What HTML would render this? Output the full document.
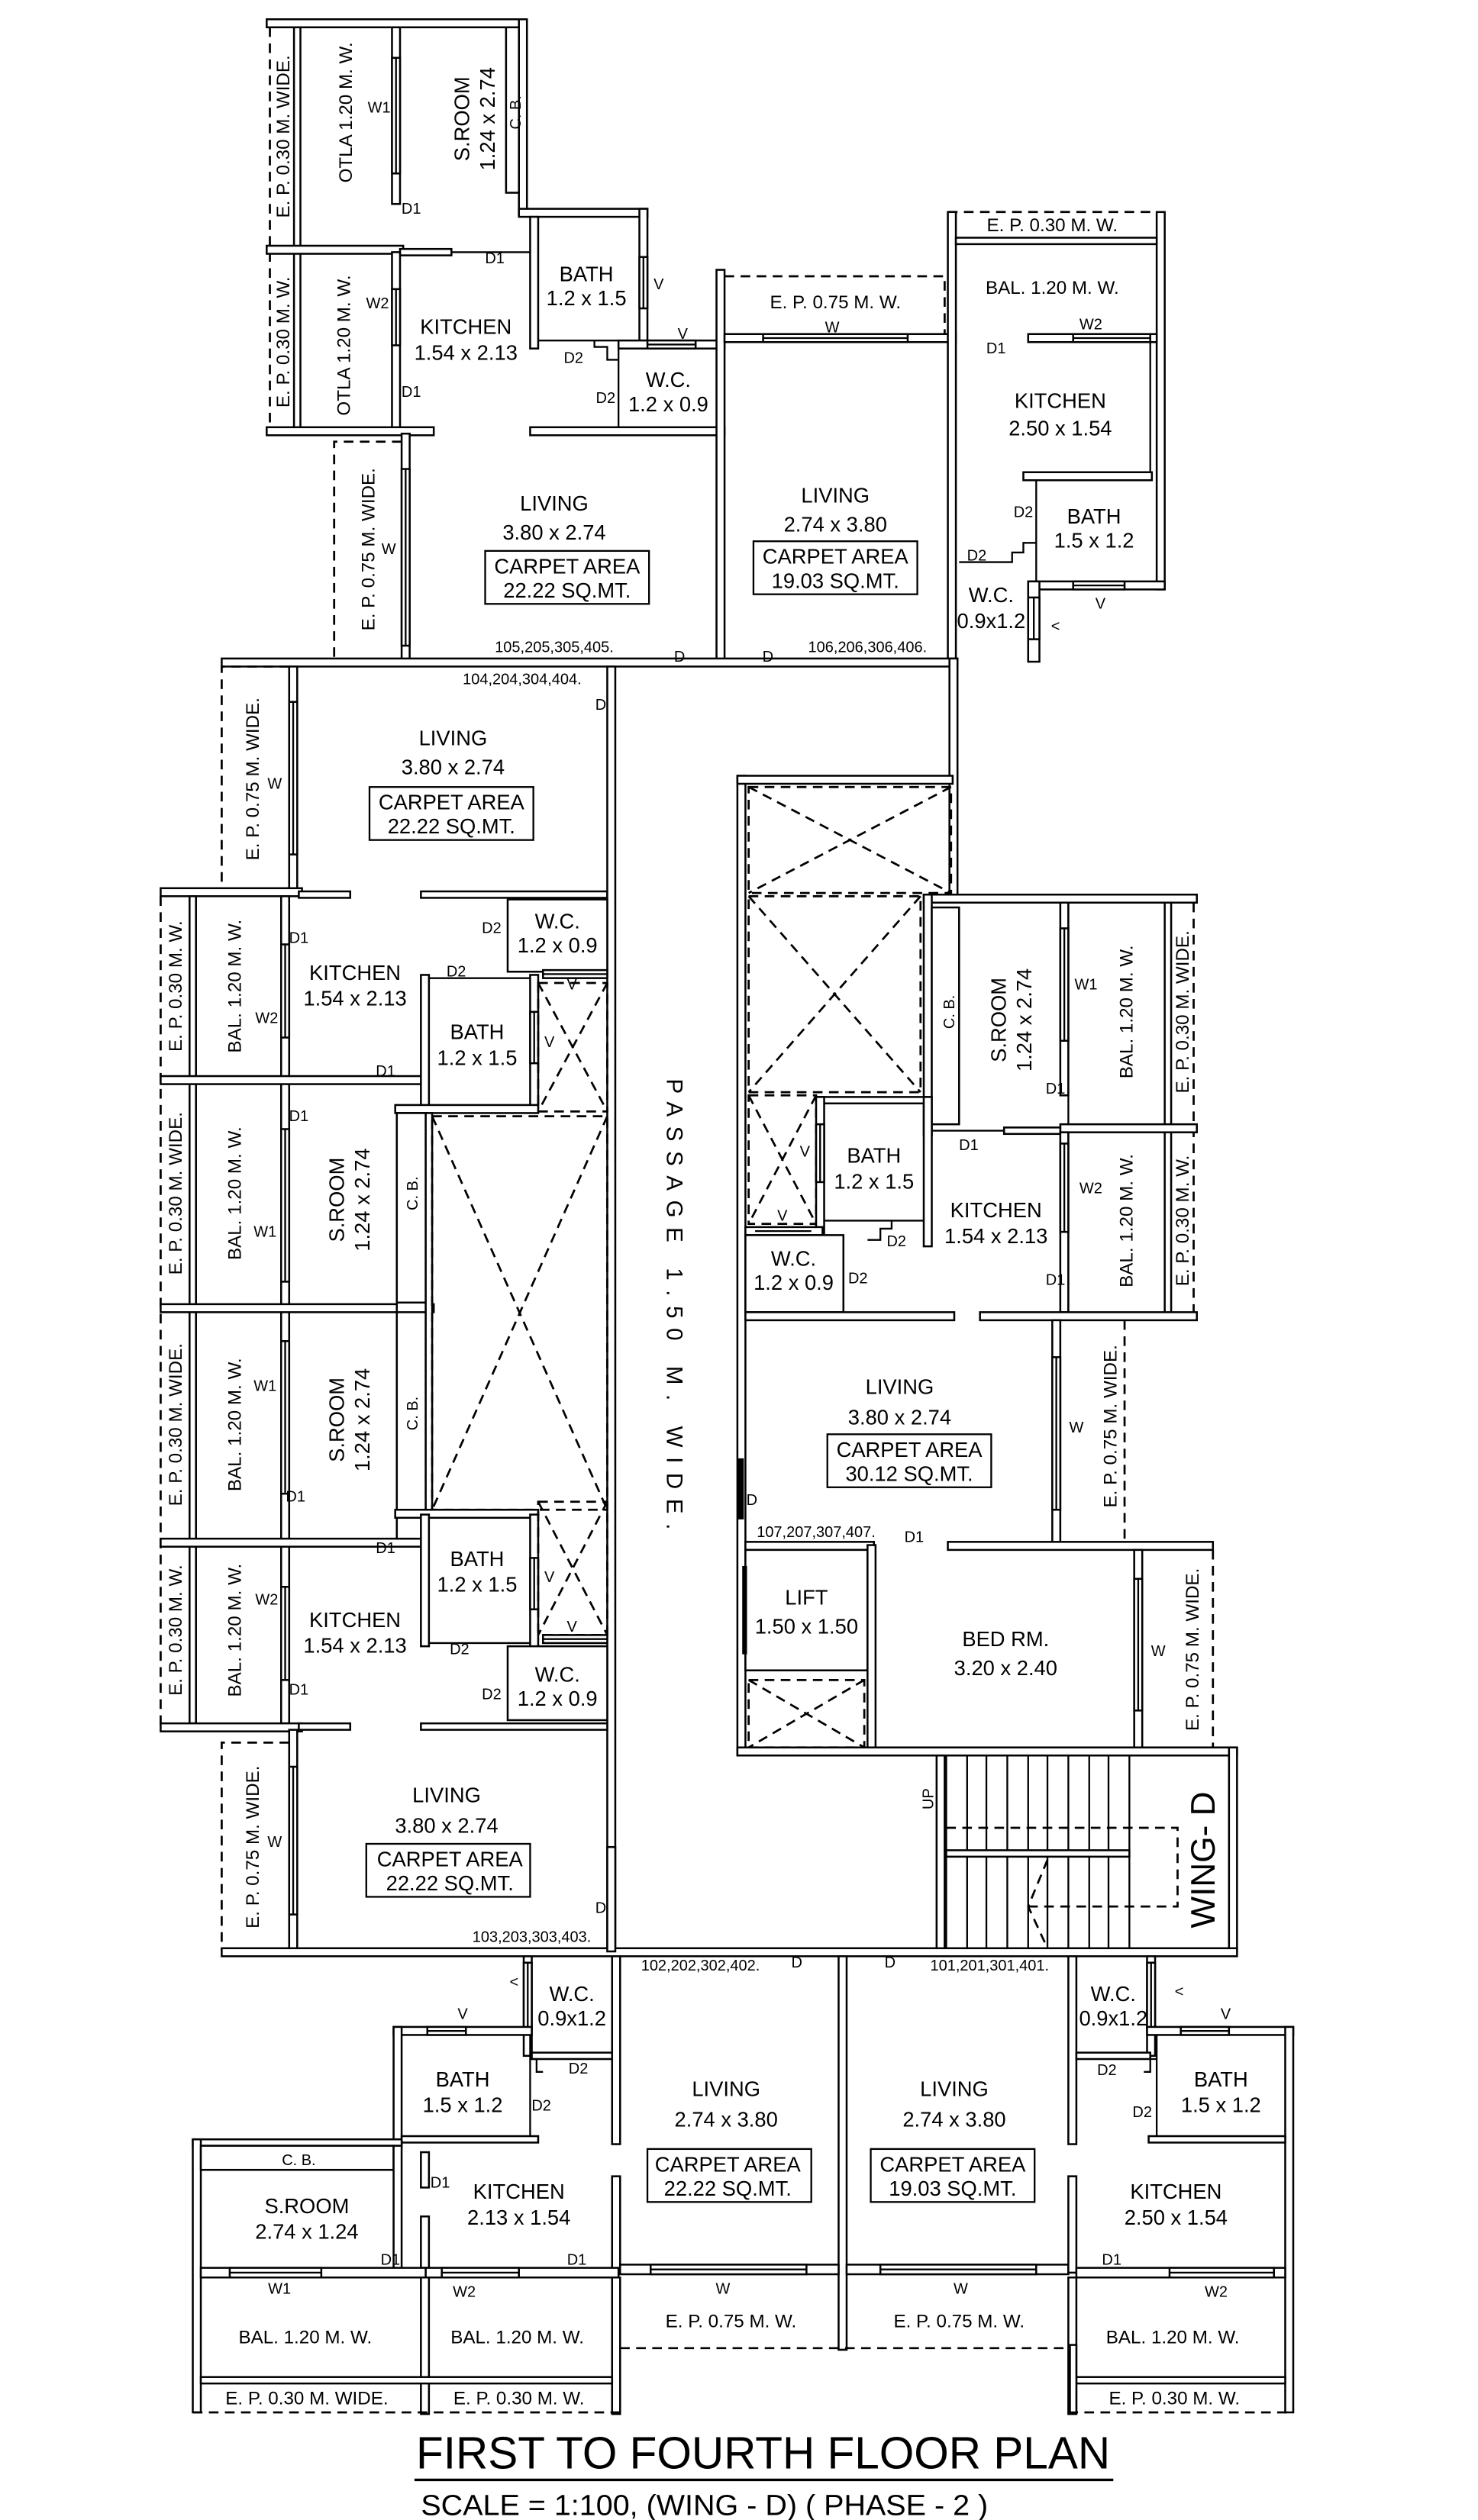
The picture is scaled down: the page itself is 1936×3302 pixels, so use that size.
<!DOCTYPE html>
<html><head><meta charset="utf-8"><style>
html,body{margin:0;padding:0;background:#fff}
svg{display:block}
.w{fill:#fff;stroke:#000;stroke-width:1.2}
.k{fill:#000}
.l{fill:none;stroke:#000;stroke-width:1.1}
.d{fill:none;stroke:#000;stroke-width:1.3;stroke-dasharray:6 4}
text{font-family:"Liberation Sans",Arial,sans-serif;font-size:13px;fill:#000;text-anchor:middle}
.s{font-size:9.5px}
.m{font-size:11.5px}
</style></head><body>
<svg width="1936" height="3302" viewBox="0 0 920 1569" preserveAspectRatio="none" xmlns="http://www.w3.org/2000/svg">

<!-- ================= TOP LEFT UNIT ================= -->
<rect class="w" x="166" y="12" width="161" height="5"/>
<rect class="w" x="323" y="12" width="5" height="122"/>
<rect class="w" x="323" y="130" width="80" height="5"/>
<rect class="w" x="398" y="130" width="5" height="82"/>
<rect class="w" x="398" y="160" width="5" height="32"/><line class="l" x1="400.5" y1="160" x2="400.5" y2="192"/>
<rect class="w" x="315" y="17" width="8" height="103"/>
<line class="d" x1="168" y1="17" x2="168" y2="270"/>
<rect class="w" x="183" y="17" width="4" height="250"/>
<rect class="w" x="244" y="17" width="5" height="110"/>
<rect class="w" x="244" y="36" width="5" height="72"/><line class="l" x1="246.5" y1="36" x2="246.5" y2="108"/>
<rect class="w" x="166" y="153" width="85" height="5"/>
<rect class="w" x="249" y="155" width="32" height="4"/>
<line class="l" x1="281" y1="157" x2="330" y2="157"/>
<rect class="w" x="330" y="135" width="5" height="82"/>
<line class="l" x1="335" y1="212" x2="398" y2="212"/>
<polyline class="l" points="370,212 370,216 378,216 378,224 385,224"/>
<rect class="w" x="385" y="212" width="66" height="5"/>
<rect class="w" x="403" y="212" width="30" height="5"/><line class="l" x1="403" y1="214.5" x2="433" y2="214.5"/>
<line class="l" x1="385" y1="217" x2="385" y2="266"/>
<rect class="w" x="244" y="157" width="5" height="110"/>
<rect class="w" x="244" y="180" width="5" height="35"/><line class="l" x1="246.5" y1="180" x2="246.5" y2="215"/>
<rect class="w" x="166" y="266" width="104" height="5"/>
<rect class="w" x="330" y="266" width="121" height="5"/>
<rect class="w" x="250" y="270" width="5" height="142"/>
<rect class="w" x="250" y="292" width="5" height="110"/><line class="l" x1="252.5" y1="292" x2="252.5" y2="402"/>
<polyline class="d" points="250,275 208,275 208,410"/>
<rect class="w" x="446" y="168" width="5" height="244"/>
<polyline class="d" points="451,172 588,172 588,208"/>
<rect class="w" x="451" y="208" width="144" height="5"/>
<rect class="w" x="475" y="208" width="90" height="5"/><line class="l" x1="475" y1="210.5" x2="565" y2="210.5"/>

<!-- top right unit -->
<polyline class="d" points="590,132 720,132"/>
<rect class="w" x="720" y="132" width="5" height="235"/>
<rect class="w" x="590" y="132" width="5" height="280"/>
<rect class="w" x="595" y="148" width="125" height="4"/>
<rect class="w" x="640" y="208" width="80" height="5"/>
<rect class="w" x="668" y="208" width="48" height="5"/><line class="l" x1="668" y1="210.5" x2="716" y2="210.5"/>
<line class="l" x1="716" y1="213" x2="716" y2="296"/>
<rect class="w" x="637" y="294" width="80" height="5"/>
<line class="l" x1="645" y1="299" x2="645" y2="362"/>
<rect class="w" x="640" y="362" width="85" height="5"/>
<rect class="w" x="668" y="362" width="32" height="5"/><line class="l" x1="668" y1="364.5" x2="700" y2="364.5"/>
<polyline class="l" points="597,350 630,350 630,344 637,344 637,338 645,338"/>
<rect class="w" x="640" y="362" width="7" height="50"/>
<rect class="w" x="640" y="372" width="7" height="26"/><line class="l" x1="643.5" y1="372" x2="643.5" y2="398"/>

<rect class="w" x="138" y="410" width="458" height="5"/>
<rect class="w" x="591" y="410" width="5" height="150"/>

<!-- ================= MIDDLE LEFT ================= -->
<rect class="w" x="180" y="415" width="5" height="140"/>
<rect class="w" x="180" y="437" width="5" height="95"/><line class="l" x1="182.5" y1="437" x2="182.5" y2="532"/>
<polyline class="d" points="180,415 138,415 138,553"/>
<rect class="w" x="100" y="553" width="88" height="5"/>
<rect class="w" x="186" y="555" width="32" height="4"/>
<rect class="w" x="262" y="555" width="116" height="4"/>
<rect class="w" x="378" y="415" width="5" height="800"/>

<line class="d" x1="100" y1="558" x2="100" y2="1076"/>
<rect class="w" x="118" y="558" width="4" height="515"/>
<rect class="w" x="175" y="558" width="5" height="515"/>
<rect class="w" x="175" y="588" width="5" height="58"/><line class="l" x1="177.5" y1="588" x2="177.5" y2="646"/>
<rect class="w" x="175" y="703" width="5" height="95"/><line class="l" x1="177.5" y1="703" x2="177.5" y2="798"/>
<rect class="w" x="175" y="835" width="5" height="95"/><line class="l" x1="177.5" y1="835" x2="177.5" y2="930"/>
<rect class="w" x="175" y="988" width="5" height="58"/><line class="l" x1="177.5" y1="988" x2="177.5" y2="1046"/>
<rect class="w" x="100" y="670" width="165" height="5"/>
<rect class="w" x="100" y="812" width="170" height="5"/>
<rect class="w" x="100" y="958" width="165" height="5"/>
<rect class="w" x="100" y="1073" width="88" height="5"/>
<rect class="w" x="186" y="1073" width="32" height="4"/>
<rect class="w" x="262" y="1073" width="116" height="4"/>
<!-- baths -->
<rect class="w" x="262" y="607" width="5" height="83"/>
<line class="l" x1="267" y1="609" x2="330" y2="609"/>
<rect class="w" x="330" y="607" width="5" height="83"/>
<rect class="w" x="330" y="630" width="5" height="32"/><line class="l" x1="332.5" y1="630" x2="332.5" y2="662"/>
<rect class="w" x="246" y="688" width="89" height="5"/>
<rect class="w" x="316" y="560" width="62" height="45"/>
<rect class="w" x="338" y="604" width="40" height="5"/><line class="l" x1="338" y1="606.5" x2="378" y2="606.5"/>
<rect class="d" x="335" y="612" width="43" height="80"/>
<path class="d" d="M335,612 L378,692 M378,612 L335,692"/>
<rect class="w" x="247" y="693" width="18" height="265"/>
<rect class="w" x="247" y="693" width="18" height="118"/>
<rect class="w" x="247" y="817" width="18" height="125"/>
<rect class="w" x="265" y="693" width="4" height="250"/>
<rect class="d" x="269" y="695" width="109" height="245"/>
<path class="d" d="M269,695 L378,940 M378,695 L269,940"/>
<rect class="w" x="246" y="940" width="89" height="5"/>
<rect class="w" x="262" y="943" width="5" height="82"/>
<line class="l" x1="267" y1="1023" x2="330" y2="1023"/>
<rect class="w" x="330" y="943" width="5" height="83"/>
<rect class="w" x="330" y="970" width="5" height="32"/><line class="l" x1="332.5" y1="970" x2="332.5" y2="1002"/>
<rect class="d" x="335" y="935" width="43" height="83"/>
<path class="d" d="M335,935 L378,1018 M378,935 L335,1018"/>
<rect class="w" x="338" y="1018" width="40" height="5"/><line class="l" x1="338" y1="1020.5" x2="378" y2="1020.5"/>
<rect class="w" x="316" y="1025" width="62" height="46"/>
<rect class="w" x="180" y="1077" width="5" height="140"/>
<rect class="w" x="180" y="1100" width="5" height="92"/><line class="l" x1="182.5" y1="1100" x2="182.5" y2="1192"/>
<polyline class="d" points="180,1085 138,1085 138,1215"/>

<!-- ================= MIDDLE RIGHT ================= -->
<rect class="w" x="459" y="483" width="5" height="610"/>
<rect class="w" x="459" y="483" width="134" height="5"/>
<rect class="d" x="466" y="490" width="126" height="66"/>
<path class="d" d="M466,490 L592,556 M592,490 L466,556"/>
<rect class="d" x="466" y="558" width="107" height="122"/>
<path class="d" d="M466,558 L573,680 M573,558 L466,680"/>
<rect class="d" x="466" y="682" width="42" height="80"/>
<path class="d" d="M466,682 L508,762 M508,682 L466,762"/>
<rect class="w" x="575" y="557" width="170" height="5"/>
<rect class="w" x="575" y="557" width="5" height="150"/>
<rect class="w" x="580" y="565" width="17" height="135"/>
<rect class="w" x="660" y="562" width="5" height="120"/>
<rect class="w" x="660" y="578" width="5" height="70"/><line class="l" x1="662.5" y1="578" x2="662.5" y2="648"/>
<line class="l" x1="665" y1="562" x2="665" y2="702"/>
<rect class="w" x="725" y="562" width="4" height="258"/>
<line class="d" x1="743" y1="562" x2="743" y2="822"/>
<rect class="w" x="660" y="700" width="85" height="5"/>
<rect class="w" x="625" y="702" width="35" height="4"/>
<line class="l" x1="580" y1="704" x2="625" y2="704"/>
<rect class="w" x="660" y="705" width="5" height="112"/>
<rect class="w" x="660" y="712" width="5" height="55"/><line class="l" x1="662.5" y1="712" x2="662.5" y2="767"/>
<line class="l" x1="665" y1="705" x2="665" y2="817"/>
<rect class="w" x="508" y="683" width="70" height="4"/>
<rect class="w" x="508" y="683" width="5" height="85"/>
<rect class="w" x="508" y="700" width="5" height="36"/><line class="l" x1="510.5" y1="700" x2="510.5" y2="736"/>
<rect class="w" x="575" y="683" width="5" height="93"/>
<line class="l" x1="513" y1="760" x2="575" y2="760"/>
<polyline class="l" points="555,760 555,765 548,765 548,772 540,772"/>
<rect class="w" x="464" y="764" width="48" height="5"/><line class="l" x1="470" y1="766.5" x2="505" y2="766.5"/>
<rect class="w" x="464" y="769" width="61" height="48"/>
<rect class="w" x="464" y="817" width="130" height="5"/>
<rect class="w" x="610" y="817" width="135" height="5"/>
<rect class="w" x="655" y="822" width="5" height="140"/>
<rect class="w" x="655" y="845" width="5" height="95"/><line class="l" x1="657.5" y1="845" x2="657.5" y2="940"/>
<line class="d" x1="700" y1="822" x2="700" y2="962"/>
<rect class="k" x="459" y="908" width="4" height="38"/>
<rect class="w" x="464" y="960" width="80" height="5"/>
<rect class="w" x="590" y="960" width="165" height="5"/>
<rect class="w" x="464" y="965" width="76" height="75"/>
<rect class="k" x="462" y="975" width="3" height="55"/>
<rect class="w" x="540" y="962" width="5" height="128"/>
<rect class="d" x="466" y="1046" width="72" height="42"/>
<path class="d" d="M466,1046 L538,1088 M538,1046 L466,1088"/>
<rect class="w" x="706" y="965" width="5" height="125"/>
<rect class="w" x="706" y="983" width="5" height="82"/><line class="l" x1="708.5" y1="983" x2="708.5" y2="1065"/>
<line class="d" x1="755" y1="965" x2="755" y2="1088"/>
<rect class="w" x="459" y="1088" width="311" height="5"/>
<!-- stair -->
<rect class="w" x="583" y="1093" width="5" height="122"/>
<rect class="w" x="765" y="1088" width="5" height="127"/>
<g class="l">
<line x1="589" y1="1093" x2="589" y2="1213"/><line x1="602" y1="1093" x2="602" y2="1213"/><line x1="614" y1="1093" x2="614" y2="1213"/><line x1="627" y1="1093" x2="627" y2="1213"/><line x1="640" y1="1093" x2="640" y2="1213"/><line x1="652" y1="1093" x2="652" y2="1213"/><line x1="665" y1="1093" x2="665" y2="1213"/><line x1="678" y1="1093" x2="678" y2="1213"/><line x1="690" y1="1093" x2="690" y2="1213"/><line x1="703" y1="1093" x2="703" y2="1213"/>
</g>
<rect class="w" x="589" y="1152" width="114" height="4"/>
<polyline class="d" points="589,1138 733,1138 733,1187 640,1187"/>
<polyline class="d" points="652,1158 640,1187 652,1213"/>

<rect class="w" x="138" y="1213" width="632" height="5"/>
<rect class="w" x="378" y="1150" width="5" height="65"/>

<!-- ================= BOTTOM ================= -->
<rect class="w" x="326" y="1218" width="5" height="62"/>
<rect class="w" x="326" y="1222" width="5" height="42"/><line class="l" x1="328.5" y1="1222" x2="328.5" y2="1264"/>
<rect class="w" x="381" y="1218" width="5" height="117"/>
<rect class="w" x="331" y="1278" width="50" height="4"/>
<rect class="w" x="245" y="1262" width="86" height="5"/>
<rect class="w" x="266" y="1262" width="24" height="5"/><line class="l" x1="266" y1="1264.5" x2="290" y2="1264.5"/>
<rect class="w" x="245" y="1262" width="5" height="75"/>
<line class="l" x1="330" y1="1267" x2="330" y2="1330"/>
<polyline class="l" points="330,1282 334,1282 334,1290 338,1290"/>
<rect class="w" x="250" y="1330" width="85" height="4"/>
<rect class="w" x="120" y="1332" width="130" height="4"/>
<rect class="w" x="120" y="1332" width="5" height="170"/>
<rect class="w" x="125" y="1336" width="120" height="15"/>
<rect class="w" x="245" y="1336" width="5" height="78"/>
<rect class="w" x="262" y="1340" width="5" height="22"/>
<rect class="w" x="262" y="1380" width="5" height="32"/>
<rect class="w" x="381" y="1355" width="5" height="60"/>
<rect class="w" x="125" y="1412" width="140" height="6"/>
<rect class="w" x="143" y="1412" width="57" height="6"/><line class="l" x1="143" y1="1415" x2="200" y2="1415"/>
<rect class="w" x="265" y="1412" width="120" height="6"/>
<rect class="w" x="275" y="1412" width="48" height="6"/><line class="l" x1="275" y1="1415" x2="323" y2="1415"/>
<rect class="w" x="262" y="1418" width="5" height="85"/>
<rect class="w" x="381" y="1418" width="5" height="85"/>
<rect class="w" x="125" y="1480" width="256" height="4"/>
<line class="d" x1="120" y1="1502" x2="386" y2="1502"/>
<!-- living centre -->
<rect class="w" x="522" y="1218" width="5" height="245"/>
<rect class="w" x="386" y="1410" width="136" height="6"/>
<rect class="w" x="405" y="1410" width="97" height="6"/><line class="l" x1="405" y1="1413" x2="502" y2="1413"/>
<rect class="w" x="527" y="1410" width="138" height="6"/>
<rect class="w" x="548" y="1410" width="97" height="6"/><line class="l" x1="548" y1="1413" x2="645" y2="1413"/>
<line class="d" x1="386" y1="1462" x2="665" y2="1462"/>
<!-- right -->
<rect class="w" x="665" y="1218" width="5" height="117"/>
<rect class="w" x="665" y="1355" width="5" height="60"/>
<rect class="w" x="665" y="1418" width="5" height="85"/>
<rect class="w" x="714" y="1218" width="5" height="62"/>
<rect class="w" x="714" y="1222" width="5" height="42"/><line class="l" x1="716.5" y1="1222" x2="716.5" y2="1264"/>
<rect class="w" x="670" y="1278" width="46" height="4"/>
<rect class="w" x="714" y="1262" width="91" height="5"/>
<rect class="w" x="735" y="1262" width="30" height="5"/><line class="l" x1="735" y1="1264.5" x2="765" y2="1264.5"/>
<line class="l" x1="720" y1="1267" x2="720" y2="1330"/>
<polyline class="l" points="720,1282 716,1282 716,1290 712,1290"/>
<rect class="w" x="800" y="1262" width="5" height="240"/>
<rect class="w" x="715" y="1330" width="85" height="4"/>
<rect class="w" x="670" y="1412" width="130" height="6"/>
<rect class="w" x="728" y="1412" width="65" height="6"/><line class="l" x1="728" y1="1415" x2="793" y2="1415"/>
<rect class="w" x="670" y="1480" width="130" height="4"/>
<line class="d" x1="665" y1="1502" x2="805" y2="1502"/>
<rect class="w" x="666" y="1460" width="4" height="42"/>

<!-- ================= TEXT ================= -->
<g>
<text transform="rotate(-90 176 85)" x="176" y="89" class="m">E. P. 0.30 M. WIDE.</text>
<text transform="rotate(-90 214 70)" x="214" y="75" class="m">OTLA 1.20 M. W.</text>
<text x="236" y="70" class="s">W1</text>
<text x="256" y="133" class="s">D1</text>
<text transform="rotate(-90 292 70)" x="288" y="70">S.ROOM</text>
<text transform="rotate(-90 292 70)" x="288" y="86">1.24 x 2.74</text>
<text transform="rotate(-90 320 70)" x="320" y="74" class="s">C. B.</text>
<text x="308" y="164" class="s">D1</text>
<text x="365" y="175">BATH</text><text x="365" y="190">1.2 x 1.5</text>
<text x="410" y="180" class="s">V</text>
<text x="425" y="211" class="s">V</text>
<text x="357" y="226" class="s">D2</text>
<text x="377" y="251" class="s">D2</text>
<text x="416" y="241">W.C.</text><text x="416" y="256">1.2 x 0.9</text>
<text transform="rotate(-90 176 213)" x="176" y="217" class="m">E. P. 0.30 M. W.</text>
<text transform="rotate(-90 214 215)" x="214" y="219" class="m">OTLA 1.20 M. W.</text>
<text x="235" y="192" class="s">W2</text>
<text x="256" y="247" class="s">D1</text>
<text x="290" y="208">KITCHEN</text><text x="290" y="224">1.54 x 2.13</text>
<text transform="rotate(-90 229 342)" x="229" y="346" class="m">E. P. 0.75 M. WIDE.</text>
<text x="242" y="345" class="s">W</text>
<text x="345" y="318">LIVING</text><text x="345" y="336">3.80 x 2.74</text>
<rect class="l" x="302" y="343" width="102" height="33"/>
<text x="353" y="357">CARPET AREA</text><text x="353" y="372">22.22 SQ.MT.</text>
<text x="345" y="406" class="s">105,205,305,405.</text>
<text x="423" y="412" class="s">D</text>
<text x="478" y="412" class="s">D</text>
<text x="520" y="192" class="m">E. P. 0.75 M. W.</text>
<text x="518" y="207" class="s">W</text>
<text x="520" y="313">LIVING</text><text x="520" y="331">2.74 x 3.80</text>
<rect class="l" x="469" y="337" width="102" height="33"/>
<text x="520" y="351">CARPET AREA</text><text x="520" y="366">19.03 SQ.MT.</text>
<text x="540" y="406" class="s">106,206,306,406.</text>
<text x="655" y="144" class="m">E. P. 0.30 M. W.</text>
<text x="655" y="183" class="m">BAL. 1.20 M. W.</text>
<text x="679" y="205" class="s">W2</text>
<text x="620" y="220" class="s">D1</text>
<text x="660" y="254">KITCHEN</text><text x="660" y="271">2.50 x 1.54</text>
<text x="637" y="322" class="s">D2</text>
<text x="608" y="349" class="s">D2</text>
<text x="681" y="326">BATH</text><text x="681" y="341">1.5 x 1.2</text>
<text x="685" y="379" class="s">V</text>
<text x="617" y="375">W.C.</text><text x="617" y="391">0.9x1.2</text>
<text x="657" y="393" class="s">&lt;</text>

<text x="325" y="426" class="s">104,204,304,404.</text>
<text x="374" y="442" class="s">D</text>
<text transform="rotate(-90 157 485)" x="157" y="489" class="m">E. P. 0.75 M. WIDE.</text>
<text x="171" y="491" class="s">W</text>
<text x="282" y="464">LIVING</text><text x="282" y="482">3.80 x 2.74</text>
<rect class="l" x="230" y="490" width="102" height="33"/>
<text x="281" y="504">CARPET AREA</text><text x="281" y="519">22.22 SQ.MT.</text>
<text x="186" y="587" class="s">D1</text>
<text x="306" y="581" class="s">D2</text>
<text x="347" y="578">W.C.</text><text x="347" y="593">1.2 x 0.9</text>
<text x="284" y="608" class="s">D2</text>
<text x="221" y="610">KITCHEN</text><text x="221" y="626">1.54 x 2.13</text>
<text x="166" y="637" class="s">W2</text>
<text x="297" y="647">BATH</text><text x="297" y="663">1.2 x 1.5</text>
<text x="342" y="652" class="s">V</text>
<text x="356" y="616" class="s">V</text>
<text x="240" y="670" class="s">D1</text>
<text transform="rotate(-90 109 614)" x="109" y="618" class="m">E. P. 0.30 M. W.</text>
<text transform="rotate(-90 146 614)" x="146" y="618" class="m">BAL. 1.20 M. W.</text>
<text x="186" y="698" class="s">D1</text>
<text transform="rotate(-90 109 743)" x="109" y="747" class="m">E. P. 0.30 M. WIDE.</text>
<text transform="rotate(-90 146 743)" x="146" y="747" class="m">BAL. 1.20 M. W.</text>
<text x="165" y="770" class="s">W1</text>
<text transform="rotate(-90 214 743)" x="210" y="743">S.ROOM</text>
<text transform="rotate(-90 214 743)" x="210" y="759">1.24 x 2.74</text>
<text transform="rotate(-90 256 743)" x="256" y="747" class="s">C. B.</text>
<text transform="rotate(-90 109 887)" x="109" y="891" class="m">E. P. 0.30 M. WIDE.</text>
<text transform="rotate(-90 146 887)" x="146" y="891" class="m">BAL. 1.20 M. W.</text>
<text x="165" y="866" class="s">W1</text>
<text transform="rotate(-90 214 880)" x="210" y="880">S.ROOM</text>
<text transform="rotate(-90 214 880)" x="210" y="896">1.24 x 2.74</text>
<text transform="rotate(-90 256 880)" x="256" y="884" class="s">C. B.</text>
<text x="184" y="935" class="s">D1</text>
<text x="240" y="967" class="s">D1</text>
<text x="297" y="975">BATH</text><text x="297" y="991">1.2 x 1.5</text>
<text x="342" y="985" class="s">V</text>
<text x="356" y="1016" class="s">V</text>
<text transform="rotate(-90 109 1015)" x="109" y="1019" class="m">E. P. 0.30 M. W.</text>
<text transform="rotate(-90 146 1015)" x="146" y="1019" class="m">BAL. 1.20 M. W.</text>
<text x="166" y="999" class="s">W2</text>
<text x="221" y="1013">KITCHEN</text><text x="221" y="1029">1.54 x 2.13</text>
<text x="286" y="1030" class="s">D2</text>
<text x="306" y="1058" class="s">D2</text>
<text x="347" y="1047">W.C.</text><text x="347" y="1062">1.2 x 0.9</text>
<text x="186" y="1055" class="s">D1</text>
<text transform="rotate(-90 157 1150)" x="157" y="1154" class="m">E. P. 0.75 M. WIDE.</text>
<text x="171" y="1150" class="s">W</text>
<text x="278" y="1122">LIVING</text><text x="278" y="1141">3.80 x 2.74</text>
<rect class="l" x="228" y="1148" width="102" height="33"/>
<text x="280" y="1162">CARPET AREA</text><text x="280" y="1177">22.22 SQ.MT.</text>
<text x="374" y="1191" class="s">D</text>
<text x="331" y="1209" class="s">103,203,303,403.</text>
<text transform="rotate(90 420 815)" x="420" y="820" style="font-size:14px;letter-spacing:6px">PASSAGE 1.50 M. WIDE.</text>

<text transform="rotate(-90 590 630)" x="590" y="634" class="s">C. B.</text>
<text transform="rotate(-90 626 630)" x="621" y="630">S.ROOM</text>
<text transform="rotate(-90 626 630)" x="621" y="646">1.24 x 2.74</text>
<text x="676" y="616" class="s">W1</text>
<text x="657" y="681" class="s">D1</text>
<text transform="rotate(-90 701 630)" x="701" y="634" class="m">BAL. 1.20 M. W.</text>
<text transform="rotate(-90 736 630)" x="736" y="634" class="m">E. P. 0.30 M. WIDE.</text>
<text x="603" y="716" class="s">D1</text>
<text x="544" y="724">BATH</text><text x="544" y="740">1.2 x 1.5</text>
<text x="501" y="720" class="s">V</text>
<text x="487" y="760" class="s">V</text>
<text x="620" y="758">KITCHEN</text><text x="620" y="774">1.54 x 2.13</text>
<text x="679" y="743" class="s">W2</text>
<text x="558" y="776" class="s">D2</text>
<text x="534" y="799" class="s">D2</text>
<text x="494" y="788">W.C.</text><text x="494" y="803">1.2 x 0.9</text>
<text x="657" y="800" class="s">D1</text>
<text transform="rotate(-90 701 760)" x="701" y="764" class="m">BAL. 1.20 M. W.</text>
<text transform="rotate(-90 736 760)" x="736" y="764" class="m">E. P. 0.30 M. W.</text>
<text x="560" y="868">LIVING</text><text x="560" y="887">3.80 x 2.74</text>
<rect class="l" x="515" y="893" width="102" height="33"/>
<text x="566" y="907">CARPET AREA</text><text x="566" y="922">30.12 SQ.MT.</text>
<text x="670" y="892" class="s">W</text>
<text transform="rotate(-90 691 888)" x="691" y="892" class="m">E. P. 0.75 M. WIDE.</text>
<text x="468" y="937" class="s">D</text>
<text x="508" y="957" class="s">107,207,307,407.</text>
<text x="569" y="960" class="s">D1</text>
<text x="502" y="999">LIFT</text><text x="502" y="1017">1.50 x 1.50</text>
<text x="626" y="1025">BED RM.</text><text x="626" y="1043">3.20 x 2.40</text>
<text x="721" y="1031" class="s">W</text>
<text transform="rotate(-90 742 1027)" x="742" y="1031" class="m">E. P. 0.75 M. WIDE.</text>
<text transform="rotate(-90 577 1120)" x="577" y="1124" class="s">UP</text>
<text transform="rotate(-90 748 1158)" x="748" y="1166" style="font-size:21px">WING- D</text>

<text x="436" y="1227" class="s">102,202,302,402.</text>
<text x="496" y="1225" class="s">D</text>
<text x="554" y="1225" class="s">D</text>
<text x="616" y="1227" class="s">101,201,301,401.</text>
<text x="320" y="1237" class="s">&lt;</text>
<text x="356" y="1246">W.C.</text><text x="356" y="1261">0.9x1.2</text>
<text x="288" y="1257" class="s">V</text>
<text x="360" y="1291" class="s">D2</text>
<text x="337" y="1314" class="s">D2</text>
<text x="288" y="1299">BATH</text><text x="288" y="1315">1.5 x 1.2</text>
<text x="186" y="1348" class="s">C. B.</text>
<text x="191" y="1378">S.ROOM</text><text x="191" y="1394">2.74 x 1.24</text>
<text x="243" y="1410" class="s">D1</text>
<text x="274" y="1362" class="s">D1</text>
<text x="323" y="1369">KITCHEN</text><text x="323" y="1385">2.13 x 1.54</text>
<text x="359" y="1410" class="s">D1</text>
<text x="174" y="1428" class="s">W1</text>
<text x="289" y="1430" class="s">W2</text>
<text x="190" y="1459" class="m">BAL. 1.20 M. W.</text>
<text x="322" y="1459" class="m">BAL. 1.20 M. W.</text>
<text x="191" y="1497" class="m">E. P. 0.30 M. WIDE.</text>
<text x="323" y="1497" class="m">E. P. 0.30 M. W.</text>
<text x="452" y="1305">LIVING</text><text x="452" y="1324">2.74 x 3.80</text>
<rect class="l" x="403" y="1338" width="102" height="33"/>
<text x="453" y="1352">CARPET AREA</text><text x="453" y="1367">22.22 SQ.MT.</text>
<text x="450" y="1428" class="s">W</text>
<text x="455" y="1449" class="m">E. P. 0.75 M. W.</text>
<text x="594" y="1305">LIVING</text><text x="594" y="1324">2.74 x 3.80</text>
<rect class="l" x="542" y="1338" width="102" height="33"/>
<text x="593" y="1352">CARPET AREA</text><text x="593" y="1367">19.03 SQ.MT.</text>
<text x="598" y="1428" class="s">W</text>
<text x="597" y="1449" class="m">E. P. 0.75 M. W.</text>
<text x="693" y="1246">W.C.</text><text x="693" y="1261">0.9x1.2</text>
<text x="734" y="1243" class="s">&lt;</text>
<text x="763" y="1257" class="s">V</text>
<text x="689" y="1292" class="s">D2</text>
<text x="711" y="1318" class="s">D2</text>
<text x="760" y="1299">BATH</text><text x="760" y="1315">1.5 x 1.2</text>
<text x="732" y="1369">KITCHEN</text><text x="732" y="1385">2.50 x 1.54</text>
<text x="692" y="1410" class="s">D1</text>
<text x="757" y="1430" class="s">W2</text>
<text x="730" y="1459" class="m">BAL. 1.20 M. W.</text>
<text x="731" y="1497" class="m">E. P. 0.30 M. W.</text>

<text x="475" y="1537" style="font-size:28px" textLength="432" lengthAdjust="spacingAndGlyphs">FIRST TO FOURTH FLOOR PLAN</text>
<line x1="258" y1="1544" x2="693" y2="1544" stroke="#000" stroke-width="1.6"/>
<text x="262" y="1566" style="font-size:18px;text-anchor:start" textLength="353" lengthAdjust="spacingAndGlyphs">SCALE = 1:100, (WING - D)   ( PHASE - 2 )</text>
</g>
</svg>
</body></html>
